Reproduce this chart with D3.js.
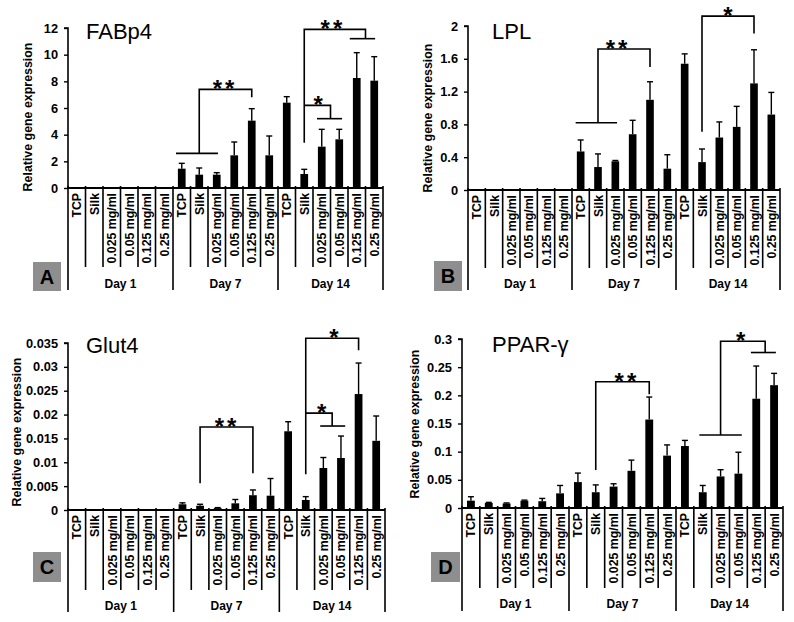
<!DOCTYPE html>
<html><head><meta charset="utf-8">
<script src="https://cdnjs.cloudflare.com/ajax/libs/d3/7.8.5/d3.min.js"></script>
<style>body{margin:0;background:#fff}svg{display:block}text{font-family:"Liberation Sans",Arial,sans-serif}</style>
</head><body><svg id="c" width="794" height="622"></svg>
<script>
const days = ["Day 1", "Day 7", "Day 14"];
const treatments = ["TCP", "Silk", "0.025 mg/ml", "0.05 mg/ml", "0.125 mg/ml", "0.25 mg/ml"];

const fabp4Mean = [0.02,0,0,0,0,0, 1.45,1.0,1.0,2.45,5.05,2.45, 6.4,1.05,3.1,3.65,8.25,8.05];
const fabp4Err  = [0,0,0,0,0,0, 0.4,0.5,0.15,1.0,0.9,1.45, 0.45,0.35,1.3,0.75,1.9,1.8];
const lplMean = [0.01,0,0,0.004,0,0, 0.47,0.28,0.35,0.68,1.1,0.26, 1.54,0.34,0.64,0.77,1.3,0.92];
const lplErr  = [0,0,0,0,0,0, 0.14,0.16,0.01,0.17,0.22,0.17, 0.12,0.16,0.19,0.25,0.41,0.27];
const glut4Mean = [0.0002,0,0,0,0,0, 0.0012,0.0009,0.0004,0.0014,0.0031,0.003, 0.0165,0.0021,0.0088,0.0109,0.0243,0.0145];
const glut4Err  = [0,0,0,0,0,0, 0.0003,0.0003,0.0001,0.0008,0.0011,0.0036, 0.002,0.0007,0.0022,0.0046,0.0065,0.0052];
const pparMean = [0.013,0.009,0.008,0.013,0.012,0.026, 0.046,0.028,0.038,0.066,0.157,0.093, 0.11,0.028,0.056,0.061,0.194,0.218];
const pparErr  = [0.007,0.001,0.001,0.001,0.005,0.014, 0.016,0.013,0.005,0.019,0.04,0.019, 0.01,0.012,0.012,0.038,0.058,0.021];

const fabp4Ticks = [0,2,4,6,8,10,12];
const lplTicks = [0,0.4,0.8,1.2,1.6,2];
const glut4Ticks = [0,0.005,0.01,0.015,0.02,0.025,0.03,0.035];
const pparTicks = [0,0.05,0.1,0.15,0.2,0.25,0.3];

// significance brackets: [categoryIndex, value] polylines + star labels
const fabp4Sig = {
  lines: [
    [[5.67,2.6],[8.07,2.6]],
    [[7,2.6],[7,7.4],[10,7.4],[10,6.8]],
    [[13,3.4],[13,11.9],[16.5,11.9],[16.5,11.2]],
    [[15.6,11.2],[17.05,11.2]],
    [[13,6.2],[14.5,6.2],[14.5,5.2]],
    [[13.73,5.2],[15.16,5.2]]
  ],
  labels: [["**",8.47,7.4],["**",14.64,11.9],["*",13.8,6.2]]
};
const lplSig = {
  lines: [
    [[5.71,0.82],[8.1,0.82]],
    [[7,0.82],[7,1.72],[10,1.72],[10,1.5]],
    [[13,0.71],[13,2.12],[16,2.12],[16,1.91]]
  ],
  labels: [["**",8.16,1.72],["*",14.5,2.12]]
};
const glut4Sig = {
  lines: [
    [[7,0.0056],[7,0.0174],[10,0.0174],[10,0.0077]],
    [[13,0.0075],[13,0.036],[16,0.036],[16,0.0335]],
    [[13,0.0203],[14.5,0.0203],[14.5,0.0176]],
    [[13.82,0.0176],[15.24,0.0176]]
  ],
  labels: [["**",8.53,0.0174],["*",14.6,0.036],["*",13.9,0.0203]]
};
const pparSig = {
  lines: [
    [[7,0.0675],[7,0.224],[10,0.224],[10,0.202]],
    [[12.81,0.1295],[15.19,0.1295]],
    [[14,0.1295],[14,0.296],[16.5,0.296],[16.5,0.276]],
    [[15.7,0.276],[17.1,0.276]]
  ],
  labels: [["**",8.75,0.224],["*",15.13,0.296]]
};

const panels = [
  {title:"FABp4", letter:"A", mean:fabp4Mean, err:fabp4Err, ticks:fabp4Ticks, sig:fabp4Sig,
   left:68, right:383, top:28, zero:188, inner:267, outer:290, dayY:288, titleX:86, titleY:39,
   yTitleX:28, yTitleY:117, box:[33,262,28,29], fmt:d=>String(d)},
  {title:"LPL", letter:"B", mean:lplMean, err:lplErr, ticks:lplTicks, sig:lplSig,
   left:468, right:780, top:26, zero:190, inner:268, outer:290, dayY:288, titleX:492, titleY:39,
   yTitleX:428, yTitleY:118, box:[434,261,28,30], fmt:d=>String(d)},
  {title:"Glut4", letter:"C", mean:glut4Mean, err:glut4Err, ticks:glut4Ticks, sig:glut4Sig,
   left:68, right:385, top:343, zero:510, inner:590, outer:612, dayY:610, titleX:86, titleY:353,
   yTitleX:17, yTitleY:432, box:[33,552,28,30], fmt:d=>String(d)},
  {title:"PPAR-\u03b3", letter:"D", mean:pparMean, err:pparErr, ticks:pparTicks, sig:pparSig,
   left:462, right:783, top:339, zero:508, inner:588, outer:611, dayY:608, titleX:492, titleY:352,
   yTitleX:415, yTitleY:424, box:[431,552,29,30], fmt:d=>String(d)}
];

const svg = d3.select("#c");
const cats = [];
days.forEach((d,gi)=>treatments.forEach((t,ti)=>cats.push({day:d, t:t, i:gi*6+ti})));

panels.forEach(p=>{
  const g = svg.append("g");
  const x = d3.scaleBand().domain(d3.range(18)).range([p.left,p.right]).padding(0);
  const xi = v => p.left + x.bandwidth()*(v+0.5);
  const y = d3.scaleLinear().domain([0, p.ticks[p.ticks.length-1]]).range([p.zero,p.top]);
  const bw = x.bandwidth()*0.44;

  // y axis
  const ax = g.append("g").attr("transform",`translate(${p.left},0)`)
    .call(d3.axisLeft(y).tickValues(p.ticks).tickFormat(p.fmt).tickSize(4).tickPadding(6));
  ax.select(".domain").attr("stroke","#000").attr("stroke-width",1.6).attr("d",`M-4,${p.top}H0V${p.zero}`);
  ax.selectAll(".tick line").attr("stroke","#000").attr("stroke-width",1.4);
  ax.selectAll(".tick text").attr("font-size",12.8).attr("font-weight","bold").attr("fill","#000")
    .style("font-family","'Liberation Sans',Arial,sans-serif");

  // bars
  g.selectAll(".bar").data(p.mean).enter().append("rect")
    .attr("x",(d,i)=>xi(i)-bw/2).attr("width",bw)
    .attr("y",d=>y(d)).attr("height",d=>Math.max(0,p.zero-y(d))).attr("fill","#000");
  // error bars
  p.err.forEach((e,i)=>{
    if(e<=0) return;
    const cx = xi(i), y0 = y(p.mean[i]), y1 = y(p.mean[i]+e);
    g.append("line").attr("x1",cx).attr("x2",cx).attr("y1",y0).attr("y2",y1).attr("stroke","#000").attr("stroke-width",1.4);
    g.append("line").attr("x1",cx-3).attr("x2",cx+3).attr("y1",y1).attr("y2",y1).attr("stroke","#000").attr("stroke-width",1.4);
  });

  // x axis baseline
  g.append("line").attr("x1",p.left).attr("x2",p.right).attr("y1",p.zero).attr("y2",p.zero).attr("stroke","#000").attr("stroke-width",1.8);
  // category dividers
  d3.range(19).forEach(k=>{
    const xx = p.left + x.bandwidth()*k;
    const isGroup = k%6===0;
    g.append("line").attr("x1",xx).attr("x2",xx).attr("y1",p.zero-2).attr("y2",isGroup?p.outer:p.inner)
      .attr("stroke","#000").attr("stroke-width",1.6);
  });
  // category labels
  g.selectAll(".cl").data(cats).enter().append("text")
    .attr("transform",d=>`translate(${xi(d.i)+4.5},${p.zero+5}) rotate(-90)`)
    .attr("text-anchor","end").attr("font-size",12.3).attr("font-weight","bold").text(d=>d.t);
  // day labels
  days.forEach((d,gi)=>{
    g.append("text").attr("x",p.left + x.bandwidth()*(gi*6+3)).attr("y",p.dayY)
      .attr("text-anchor","middle").attr("font-size",12).attr("font-weight","bold").text(d);
  });
  // letter box
  g.append("rect").attr("x",p.box[0]).attr("y",p.box[1]).attr("width",p.box[2]).attr("height",p.box[3]).attr("fill","#8e8e8e");
  g.append("text").attr("x",p.box[0]+p.box[2]/2).attr("y",p.box[1]+p.box[3]/2+7)
    .attr("text-anchor","middle").attr("font-size",20).attr("font-weight","bold").text(p.letter);
  // titles
  g.append("text").attr("x",p.titleX).attr("y",p.titleY).attr("font-size",22).text(p.title);
  g.append("text").attr("transform",`translate(${p.yTitleX+4},${p.yTitleY}) rotate(-90)`)
    .attr("text-anchor","middle").attr("font-size",12.4).attr("font-weight","bold").text("Relative gene expression");

  // significance
  const line = d3.line().x(d=>xi(d[0])).y(d=>y(d[1]));
  p.sig.lines.forEach(L=>{
    g.append("path").attr("d",line(L)).attr("fill","none").attr("stroke","#000").attr("stroke-width",1.6);
  });
  p.sig.labels.forEach(s=>{
    g.append("text").attr("x",xi(s[1])).attr("y",y(s[2])+8).attr("text-anchor","middle")
      .attr("font-size",24).attr("font-weight","bold").attr("letter-spacing",s[0].length>1?3:0).text(s[0]);
  });
});
</script></body></html>
